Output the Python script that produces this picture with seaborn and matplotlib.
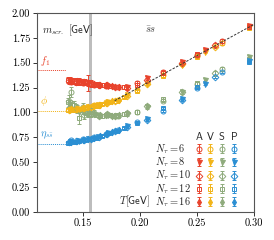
"""Screening masses of s-sbar mesons vs temperature."""

import matplotlib
matplotlib.use("Agg")
import matplotlib.pyplot as plt
import seaborn as sns

# temperatures [GeV] per N_tau
T6 = [0.140, 0.150, 0.160, 0.170, 0.181, 0.198, 0.220, 0.250, 0.272]
T8 = [0.139, 0.147, 0.155, 0.163, 0.172, 0.189, 0.206, 0.237, 0.257, 0.296]
T10 = [0.138, 0.144, 0.151, 0.157, 0.164, 0.171, 0.178, 0.189, 0.206, 0.237, 0.266]
T12 = [0.137, 0.142, 0.147, 0.152, 0.157, 0.162, 0.167, 0.173, 0.179, 0.186, 0.198, 0.220, 0.250, 0.296]
T16 = [0.140, 0.145, 0.150, 0.155, 0.160, 0.165, 0.170, 0.176, 0.182]

# screening masses [GeV]: A, V, S, P channels
A6 = [1.31, 1.30, 1.28, 1.27, 1.26, 1.30, 1.41, 1.58, 1.72]
V6 = [1.03, 1.04, 1.07, 1.10, 1.13, 1.23, 1.38, 1.57, 1.70]
S6 = [1.21, 1.05, 0.99, 0.97, 0.96, 1.00, 1.12, 1.29, 1.44]
P6 = [0.72, 0.73, 0.75, 0.78, 0.82, 0.90, 1.01, 1.25, 1.41]

A8 = [1.33, 1.32, 1.30, 1.28, 1.27, 1.26, 1.35, 1.51, 1.63, 1.87]
V8 = [1.02, 1.03, 1.05, 1.07, 1.10, 1.18, 1.29, 1.48, 1.61, 1.86]
S8 = [1.08, 1.00, 0.98, 0.97, 0.97, 0.98, 1.05, 1.21, 1.33, 1.56]
P8 = [0.70, 0.71, 0.73, 0.75, 0.79, 0.86, 0.93, 1.14, 1.29, 1.52]

A10 = [1.32, 1.31, 1.31, 1.30, 1.28, 1.28, 1.26, 1.25, 1.33, 1.50, 1.68]
V10 = [1.02, 1.03, 1.04, 1.05, 1.07, 1.09, 1.12, 1.17, 1.29, 1.49, 1.66]
S10 = [1.12, 1.04, 0.97, 1.01, 0.96, 0.98, 0.96, 0.99, 1.06, 1.21, 1.40]
P10 = [0.70, 0.71, 0.72, 0.73, 0.75, 0.78, 0.81, 0.85, 0.92, 1.13, 1.36]

A12 = [1.33, 1.32, 1.31, 1.31, 1.29, 1.29, 1.28, 1.27, 1.26, 1.26, 1.28, 1.40, 1.59, 1.86]
V12 = [1.02, 1.02, 1.03, 1.04, 1.05, 1.06, 1.08, 1.10, 1.12, 1.16, 1.22, 1.37, 1.56, 1.85]
S12 = [1.10, 1.07, 0.94, 1.00, 0.98, 0.97, 0.96, 0.97, 0.97, 0.98, 1.00, 1.14, 1.30, 1.54]
P12 = [0.69, 0.70, 0.71, 0.72, 0.73, 0.74, 0.76, 0.79, 0.81, 0.84, 0.89, 1.04, 1.26, 1.51]

A16 = [1.32, 1.32, 1.31, 1.30, 1.29, 1.28, 1.28, 1.27, 1.26]
V16 = [1.03, 1.03, 1.04, 1.05, 1.06, 1.07, 1.09, 1.11, 1.13]
S16 = [1.05, 1.03, 1.01, 0.99, 0.98, 0.97, 0.97, 0.96, 0.97]
P16 = [0.70, 0.71, 0.72, 0.73, 0.74, 0.76, 0.78, 0.80, 0.82]

# errors
A6_err = [0.02, 0.02, 0.02, 0.02, 0.02, 0.02, 0.02, 0.02, 0.02]
V6_err = [0.02, 0.02, 0.02, 0.02, 0.02, 0.02, 0.02, 0.02, 0.02]
S6_err = [0.05, 0.04, 0.03, 0.02, 0.02, 0.02, 0.02, 0.02, 0.02]
P6_err = [0.01, 0.01, 0.01, 0.01, 0.01, 0.01, 0.01, 0.01, 0.01]
A8_err = [0.03, 0.03, 0.08, 0.02, 0.02, 0.02, 0.02, 0.02, 0.02, 0.02]
V8_err = [0.02, 0.02, 0.02, 0.02, 0.01, 0.01, 0.01, 0.01, 0.01, 0.01]
S8_err = [0.05, 0.04, 0.03, 0.02, 0.02, 0.02, 0.02, 0.02, 0.02, 0.02]
P8_err = [0.01, 0.01, 0.01, 0.01, 0.01, 0.01, 0.01, 0.01, 0.01, 0.01]
A10_err = [0.03, 0.03, 0.03, 0.03, 0.02, 0.02, 0.02, 0.02, 0.02, 0.02, 0.02]
V10_err = [0.02, 0.02, 0.02, 0.02, 0.02, 0.01, 0.01, 0.01, 0.01, 0.01, 0.01]
S10_err = [0.06, 0.04, 0.04, 0.03, 0.02, 0.02, 0.02, 0.02, 0.02, 0.02, 0.02]
P10_err = [0.01, 0.01, 0.01, 0.01, 0.01, 0.01, 0.01, 0.01, 0.01, 0.01, 0.01]
A12_err = [0.03, 0.03, 0.03, 0.03, 0.03, 0.02, 0.02, 0.02, 0.02, 0.02, 0.02, 0.02, 0.02, 0.02]
V12_err = [0.02, 0.02, 0.02, 0.02, 0.02, 0.02, 0.01, 0.01, 0.01, 0.01, 0.01, 0.01, 0.01, 0.01]
S12_err = [0.05, 0.05, 0.06, 0.03, 0.03, 0.02, 0.02, 0.02, 0.02, 0.02, 0.02, 0.02, 0.02, 0.02]
P12_err = [0.01, 0.01, 0.01, 0.01, 0.01, 0.01, 0.01, 0.01, 0.01, 0.01, 0.01, 0.01, 0.01, 0.01]
A16_err = [0.03, 0.03, 0.03, 0.03, 0.02, 0.02, 0.02, 0.02, 0.02]
V16_err = [0.02, 0.02, 0.02, 0.02, 0.02, 0.01, 0.01, 0.01, 0.01]
S16_err = [0.04, 0.04, 0.03, 0.03, 0.02, 0.02, 0.02, 0.02, 0.02]
P16_err = [0.01, 0.01, 0.01, 0.01, 0.01, 0.01, 0.01, 0.01, 0.01]

# free limit 2 pi T and T=0 masses
free_T = [0.178, 0.300]
free_m = [1.118, 1.885]
zero_T_names = [r"$f_1$", r"$\phi$", r"$\eta_{s\bar{s}}$"]
zero_T_masses = [1.426, 1.019, 0.686]

channels = ["A", "V", "S", "P"]
ntaus = [6, 8, 10, 12, 16]

sns.set_theme(style="ticks")
plt.rcParams["font.family"] = ["cmr10", "DejaVu Sans"]
plt.rcParams["mathtext.fontset"] = "cm"
plt.rcParams["axes.formatter.use_mathtext"] = True
plt.rcParams["axes.unicode_minus"] = False

palette = dict(zip(channels, ["#e8432c", "#f2b418", "#8fab7c", "#2b8fd3"]))
markers = {6: ("o", False, 3.6), 8: ("v", True, 3.6), 10: ("D", False, 3.4),
           12: ("s", False, 3.4), 16: ("d", True, 3.4)}

data = {
    6: (T6, {"A": (A6, A6_err), "V": (V6, V6_err), "S": (S6, S6_err), "P": (P6, P6_err)}),
    8: (T8, {"A": (A8, A8_err), "V": (V8, V8_err), "S": (S8, S8_err), "P": (P8, P8_err)}),
    10: (T10, {"A": (A10, A10_err), "V": (V10, V10_err), "S": (S10, S10_err), "P": (P10, P10_err)}),
    12: (T12, {"A": (A12, A12_err), "V": (V12, V12_err), "S": (S12, S12_err), "P": (P12, P12_err)}),
    16: (T16, {"A": (A16, A16_err), "V": (V16, V16_err), "S": (S16, S16_err), "P": (P16, P16_err)}),
}

fig = plt.figure(figsize=(2.74, 2.40), dpi=100)
ax = fig.add_axes([0.135, 0.117, 0.792, 0.829])

ax.axvspan(0.1555, 0.1585, color="#bdbdbd", lw=0, zorder=0)


def style(ch, nt):
    mk, filled, ms = markers[nt]
    c = palette[ch]
    return dict(fmt=mk, ms=ms, mew=0.7, color=c, mfc=c if filled else "none", mec=c,
                elinewidth=0.7, capsize=1.5, capthick=0.7)


for ch in ["S", "P", "V", "A"]:
    for nt in ntaus:
        T, chans = data[nt]
        m, err = chans[ch]
        ax.errorbar(T, m, yerr=err, zorder=3, **style(ch, nt))

sns.lineplot(x=free_T, y=free_m, ax=ax, color="#333333", lw=0.7,
             linestyle=(0, (2.5, 1.5)), zorder=4)

for name, mass, ch in zip(zero_T_names, zero_T_masses, ["A", "V", "P"]):
    ax.hlines(mass, 0.11, 0.135, colors=palette[ch], lw=0.7, linestyles=(0, (1, 1)))
    ax.text(0.1125, mass + 0.025, name, color=palette[ch], fontsize=7.5,
            ha="left", va="bottom")

ax.set_xlim(0.11, 0.30)
ax.set_ylim(0.0, 2.0)
ax.set_xticks([0.15, 0.20, 0.25, 0.30])
ax.set_yticks([0.0, 0.25, 0.5, 0.75, 1.0, 1.25, 1.5, 1.75, 2.0])
ax.xaxis.set_major_formatter(matplotlib.ticker.FormatStrFormatter("%.2f"))
ax.yaxis.set_major_formatter(matplotlib.ticker.FormatStrFormatter("%.2f"))
ax.tick_params(labelsize=7.5, length=3, width=0.7, pad=2, colors="#333333", labelcolor="black")
for sp in ax.spines.values():
    sp.set_color("#555555")
    sp.set_linewidth(0.8)

ax.text(0.025, 0.95, r"$m_{scr.}\ \mathsf{[GeV]}$", transform=ax.transAxes,
        fontsize=7.5, va="top", ha="left")
ax.text(0.525, 0.915, r"$\bar{s}s$", transform=ax.transAxes, fontsize=7.5, va="center",
        ha="center", color="#444444")
ax.text(0.38, 0.051, r"$T\mathsf{[GeV]}$", transform=ax.transAxes, fontsize=7.5,
        va="center", ha="left")

# legend block: rows N_tau, columns A V S P
col_x = [0.747, 0.799, 0.853, 0.908]
row_y = [0.318, 0.251, 0.183, 0.116, 0.051]
for j, ch in enumerate(channels):
    ax.text(col_x[j], 0.384, rf"$\mathsf{{{ch}}}$", transform=ax.transAxes, fontsize=7.5,
            ha="center", va="center")
    for i, nt in enumerate(ntaus):
        ax.errorbar([col_x[j]], [row_y[i]], yerr=[0.022], transform=ax.transAxes,
                    zorder=5, clip_on=False, **style(ch, nt))
for i, nt in enumerate(ntaus):
    ax.text(0.544, row_y[i], rf"$N_\tau = {nt}$", transform=ax.transAxes,
            fontsize=7.5, ha="left", va="center")

fig.savefig("out.png", dpi=100)
